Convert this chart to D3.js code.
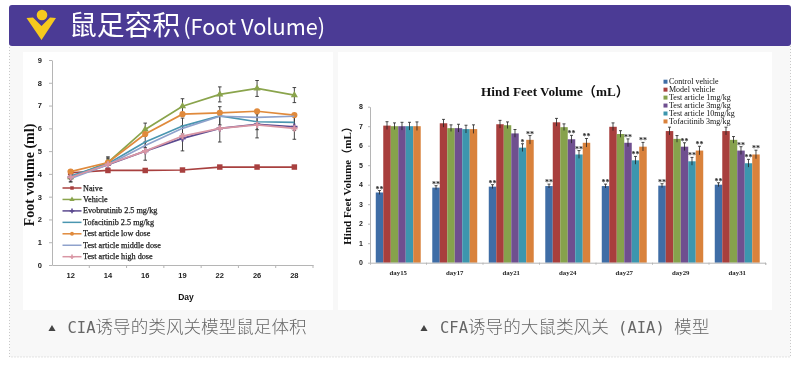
<!DOCTYPE html>
<html>
<head>
<meta charset="utf-8">
<script src="https://cdn.jsdelivr.net/npm/d3@7"></script>
<style>
  html, body { margin: 0; padding: 0; background: #fff; overflow: hidden; }
  svg { display: block; filter: blur(0.35px); }
</style>
</head>
<body>
<svg id="chart" width="800" height="367"></svg>
<script>
const titleCn = '鼠足容积';
const titleEn = '(Foot Volume)';
const captionLeft = 'CIA诱导的类风关模型鼠足体积';
const captionRight = 'CFA诱导的大鼠类风关 (AIA) 模型';

// left chart
const lineDays = ['12', '14', '16', '19', '22', '26', '28'];
const lineNames = ['Naive', 'Vehicle', 'Evobrutinib 2.5 mg/kg', 'Tofacitinib 2.5 mg/kg', 'Test article low dose', 'Test article middle dose', 'Test article high dose'];
const lineColors = ['#a8403f', '#8aa44c', '#5b4a8f', '#4a96b0', '#e08a3c', '#8fa2cc', '#d996a4'];
const naive = [4.05, 4.15, 4.15, 4.17, 4.3, 4.3, 4.3];
const vehicle = [3.85, 4.5, 5.95, 6.97, 7.49, 7.75, 7.46];
const evobrutinib = [3.85, 4.4, 5.0, 5.56, 6.0, 6.18, 6.07];
const tofacitinib = [3.9, 4.45, 5.4, 6.1, 6.55, 6.29, 6.26];
const lowDose = [4.1, 4.5, 5.75, 6.62, 6.68, 6.75, 6.58];
const middleDose = [3.8, 4.4, 5.25, 6.0, 6.53, 6.48, 6.53];
const highDose = [3.85, 4.42, 5.0, 5.66, 6.0, 6.15, 6.0];
const naiveErr = [0.05, 0.05, 0.05, 0.05, 0.05, 0.05, 0.05];
const vehicleErr = [0.2, 0.25, 0.28, 0.33, 0.33, 0.35, 0.33];
const evobrutinibErr = [0.2, 0.3, 0.4, 0.55, 0.6, 0.6, 0.55];
const tofacitinibErr = [0.15, 0.2, 0.25, 0.35, 0.4, 0.35, 0.35];

// right chart
const barDays = ['day15', 'day17', 'day21', 'day24', 'day27', 'day29', 'day31'];
const barNames = ['Control vehicle', 'Model vehicle', 'Test article 1mg/kg', 'Test article 3mg/kg', 'Test article 10mg/kg', 'Tofacitinib 3mg/kg'];
const barColors = ['#3f6da6', '#a83f3d', '#86a24c', '#6f4f8f', '#3c96ae', '#d9823c'];
const control = [3.6, 3.85, 3.9, 3.93, 3.93, 3.95, 4.0];
const model = [7.03, 7.15, 7.1, 7.2, 6.97, 6.75, 6.75];
const art1mg = [7.0, 6.9, 7.05, 6.95, 6.6, 6.35, 6.3];
const art3mg = [7.0, 6.9, 6.63, 6.33, 6.15, 5.95, 5.75];
const art10mg = [7.0, 6.85, 5.9, 5.55, 5.25, 5.2, 5.1];
const tofa3mg = [7.0, 6.85, 6.3, 6.15, 5.95, 5.75, 5.55];
const barErr = [0.1, 0.2, 0.17, 0.2, 0.2, 0.22, 0.2];
const stars3mg = ['', '', '', '**', '**', '**', '**'];
const stars10mg = ['', '', '*', '**', '**', '**', '**'];
const starsTofa = ['', '', '**', '**', '**', '**', '**'];
const starsControl = ['**', '**', '**', '**', '**', '**', '**'];

const svg = d3.select('#chart');
const serif = '"Liberation Serif", serif';
const sans = '"Liberation Sans", Arial, sans-serif';
const mono = '"DejaVu Sans Mono", monospace';
const cjk = '"Noto Sans CJK SC", sans-serif';

function drawFrame() {
  svg.append('rect').attr('x', 9.5).attr('y', 20).attr('width', 781).attr('height', 337)
    .attr('fill', '#f8f8f8').attr('stroke', '#c9c9c9').attr('stroke-dasharray', '1 2');
  svg.append('rect').attr('x', 9).attr('y', 5).attr('width', 782).attr('height', 41).attr('rx', 3)
    .attr('fill', '#4b3b95');
  svg.append('rect').attr('x', 23).attr('y', 52).attr('width', 310).attr('height', 258).attr('fill', '#fff');
  svg.append('rect').attr('x', 338).attr('y', 52).attr('width', 434).attr('height', 258).attr('fill', '#fff');

  // logo
  svg.append('circle').attr('cx', 42).attr('cy', 15).attr('r', 5.3).attr('fill', '#f6c91e');
  svg.append('path').attr('d', 'M26.5 18 L33 17.5 L41.5 26 L50 17.5 L56 18 L41.5 40 Z').attr('fill', '#f6c91e');

  const title = svg.append('text').attr('x', 69).attr('y', 35).attr('fill', '#fff').attr('font-family', cjk);
  title.append('tspan').attr('font-size', 27.8).text(titleCn);
  title.append('tspan').attr('dx', 3).attr('font-size', 21.7).text(titleEn);

  const caps = [[52, 67.5, captionLeft], [424, 440, captionRight]];
  caps.forEach(c => {
    svg.append('path').attr('transform', `translate(${c[0]},329)`)
      .attr('d', d3.symbol(d3.symbolTriangle, 22)).attr('fill', '#444');
    const t = svg.append('text').attr('x', c[1]).attr('y', 333).attr('fill', '#666');
    c[2].match(/[\x00-\x7f]+|[^\x00-\x7f]+/g).forEach(part => {
      const latin = /^[\x00-\x7f]/.test(part);
      t.append('tspan').attr('xml:space', 'preserve')
        .attr('font-family', latin ? mono : cjk)
        .attr('font-weight', latin ? 400 : 300)
        .attr('font-size', latin ? 15.5 : 17.6)
        .text(part);
    });
  });
}

function styleAxis(sel, font, size) {
  sel.selectAll('path,line').attr('stroke', '#b5b5b5').attr('stroke-width', 1);
  sel.selectAll('text').attr('font-family', font).attr('font-size', size)
    .attr('font-weight', 'bold').attr('fill', '#222');
}

function drawLineChart() {
  const x = d3.scaleBand().domain(lineDays).range([52, 313]);
  const y = d3.scaleLinear().domain([0, 9]).range([265, 60]);
  const cx = d => x(d) + x.bandwidth() / 2;

  svg.append('g').attr('transform', 'translate(0,265)')
    .call(d3.axisBottom(x).tickSize(3).tickSizeOuter(0).tickPadding(5))
    .call(styleAxis, sans, 7.5)
    .selectAll('.tick line').attr('transform', `translate(${x.bandwidth() / 2},0)`);
  svg.append('g').attr('transform', 'translate(52,0)')
    .call(d3.axisLeft(y).ticks(9).tickSize(3).tickSizeOuter(0).tickPadding(7))
    .call(styleAxis, sans, 7.5);

  const series = [naive, vehicle, evobrutinib, tofacitinib, lowDose, middleDose, highDose];
  const errors = [naiveErr, vehicleErr, evobrutinibErr, tofacitinibErr, null, null, null];
  const symbols = [d3.symbolSquare, d3.symbolTriangle, d3.symbolCross, d3.symbolX, d3.symbolCircle, d3.symbolX, d3.symbolCross];
  const line = d3.line().x((d, i) => cx(lineDays[i])).y(d => y(d));

  // error bars go under the lines
  const eb = svg.append('g').attr('stroke', '#333').attr('stroke-width', 0.9);
  series.forEach((s, k) => {
    if (!errors[k]) return;
    s.forEach((v, i) => {
      const px = cx(lineDays[i]);
      const e = errors[k][i];
      eb.append('line').attr('x1', px).attr('x2', px).attr('y1', y(v - e)).attr('y2', y(v + e));
      [v - e, v + e].forEach(w => {
        eb.append('line').attr('x1', px - 1.8).attr('x2', px + 1.8).attr('y1', y(w)).attr('y2', y(w));
      });
    });
  });

  series.forEach((s, k) => {
    svg.append('path').datum(s).attr('d', line).attr('fill', 'none')
      .attr('stroke', lineColors[k]).attr('stroke-width', 1.7);
    svg.append('g').selectAll('path').data(s).join('path')
      .attr('transform', (d, i) => `translate(${cx(lineDays[i])},${y(d)})`)
      .attr('d', d3.symbol(symbols[k], k === 4 || k === 0 ? 30 : 22))
      .attr('fill', lineColors[k]);
  });

  const lg = svg.append('g');
  lineNames.forEach((n, k) => {
    const ly = 188 + k * 11.45;
    lg.append('line').attr('x1', 62.5).attr('x2', 81.5).attr('y1', ly).attr('y2', ly)
      .attr('stroke', lineColors[k]).attr('stroke-width', 1.5);
    lg.append('path').attr('transform', `translate(72,${ly})`)
      .attr('d', d3.symbol(symbols[k], 12)).attr('fill', lineColors[k]);
    lg.append('text').attr('x', 83).attr('y', ly + 2.5)
      .attr('font-family', serif).attr('font-size', 8.2).attr('fill', '#222')
      .attr('stroke', '#222').attr('stroke-width', 0.25).text(n);
  });

  svg.append('text').attr('transform', 'translate(34,175) rotate(-90)').attr('text-anchor', 'middle')
    .attr('font-family', serif).attr('font-size', 14).attr('font-weight', 'bold').attr('fill', '#111')
    .text('Foot volume (ml)');
  svg.append('text').attr('x', 186).attr('y', 300).attr('text-anchor', 'middle')
    .attr('font-family', sans).attr('font-size', 8.5).attr('font-weight', 'bold').attr('fill', '#111')
    .text('Day');
}

function drawBarChart() {
  const x0 = d3.scaleBand().domain(barDays).range([370, 765.5]);
  const x1 = d3.scaleBand().domain(barNames).range([0, x0.bandwidth()]).paddingOuter(0.77).paddingInner(0);
  const y = d3.scaleLinear().domain([0, 8]).range([262.7, 106.7]);

  const series = [control, model, art1mg, art3mg, art10mg, tofa3mg];
  const stars = [starsControl, null, null, stars3mg, stars10mg, starsTofa];
  const gx = (k, i) => x0(barDays[i]) + x1(barNames[k]);
  const mid = (k, i) => gx(k, i) + x1.bandwidth() / 2;

  series.forEach((s, k) => {
    svg.append('g').selectAll('rect').data(s).join('rect')
      .attr('x', (d, i) => gx(k, i)).attr('y', d => y(d))
      .attr('width', x1.bandwidth()).attr('height', d => y(0) - y(d))
      .attr('fill', barColors[k]);
    const eb = svg.append('g').attr('stroke', '#222').attr('stroke-width', 0.8);
    eb.selectAll('line.v').data(s).join('line').attr('class', 'v')
      .attr('x1', (d, i) => mid(k, i)).attr('x2', (d, i) => mid(k, i))
      .attr('y1', d => y(d - barErr[k])).attr('y2', d => y(d + barErr[k]));
    eb.selectAll('line.c').data(s).join('line').attr('class', 'c')
      .attr('x1', (d, i) => mid(k, i) - 1.5).attr('x2', (d, i) => mid(k, i) + 1.5)
      .attr('y1', d => y(d + barErr[k])).attr('y2', d => y(d + barErr[k]));
  });

  // stars on top of all the bars, a neighbour's bar must not hide them
  series.forEach((s, k) => {
    if (!stars[k]) return;
    svg.append('g').selectAll('text').data(s).join('text')
      .attr('x', (d, i) => mid(k, i)).attr('y', d => y(d + barErr[k]) + 1)
      .attr('text-anchor', 'middle').attr('font-family', serif).attr('font-size', 8)
      .attr('font-weight', 'bold').attr('fill', '#222')
      .text((d, i) => stars[k][i]);
  });

  svg.append('g').attr('transform', 'translate(0,262.7)')
    .call(d3.axisBottom(x0).tickSize(2).tickSizeOuter(2).tickPadding(5))
    .call(styleAxis, serif, 6.8)
    .selectAll('.tick line').attr('transform', `translate(${x0.bandwidth() / 2},0)`);
  svg.append('g').attr('transform', 'translate(370,0)')
    .call(d3.axisLeft(y).ticks(8).tickSize(2).tickSizeOuter(0).tickPadding(5))
    .call(styleAxis, sans, 7);

  svg.append('text').attr('x', 555).attr('y', 96).attr('text-anchor', 'middle')
    .attr('font-family', serif + ', ' + cjk).attr('font-size', 13.2).attr('font-weight', 'bold').attr('fill', '#111')
    .text('Hind Feet Volume（mL）');
  svg.append('text').attr('transform', 'translate(351,183) rotate(-90)').attr('text-anchor', 'middle')
    .attr('font-family', serif + ', ' + cjk).attr('font-size', 11).attr('font-weight', 'bold').attr('fill', '#111')
    .text('Hind Feet Volume（mL）');

  const lg = svg.append('g');
  barNames.forEach((n, k) => {
    const ly = 81.7 + k * 7.95;
    lg.append('rect').attr('x', 663.5).attr('y', ly - 2).attr('width', 4).attr('height', 4).attr('fill', barColors[k]);
    lg.append('text').attr('x', 669).attr('y', ly + 2.6)
      .attr('font-family', serif).attr('font-size', 8).attr('fill', '#111').text(n);
  });
}

drawFrame();
drawLineChart();
drawBarChart();
</script>
</body>
</html>
